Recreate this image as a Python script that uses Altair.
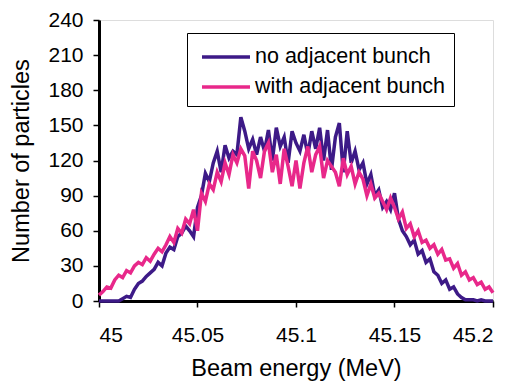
import altair as alt
import pandas as pd

energy = [round(45 + 0.002 * i, 3) for i in range(101)]

no_adjacent = [
    0, 0, 0, 0, 0, 0, 2, 4, 3, 10,
    15, 17, 21, 24, 27, 33, 30, 41, 46, 44,
    55, 58, 64, 60, 55, 80, 90, 109, 102, 118,
    128, 110, 133, 122, 128, 125, 157, 145, 130, 138,
    125, 140, 128, 146, 120, 148, 132, 140, 118, 145,
    135, 128, 142, 125, 145, 130, 148, 120, 146, 112,
    140, 152, 110, 145, 118, 128, 112, 118, 100, 108,
    90, 95, 80, 85, 78, 92, 70, 60, 55, 48,
    52, 40, 43, 33, 36, 25, 22, 15, 18, 10,
    12, 6, 3, 1, 1, 1, 0, 1, 0, 0,
    0,
]

with_adjacent = [
    5, 8, 12, 11, 18, 22, 20, 26, 24, 30,
    33, 31, 37, 34, 40, 45, 42, 48, 55, 50,
    62, 58, 70, 66, 78, 60, 92, 85, 100, 95,
    110, 102, 118, 108, 125, 118, 130, 124, 96, 128,
    120, 105, 128, 135, 110, 125, 100, 130, 115, 98,
    120, 96, 118, 132, 110, 125, 132, 105, 120, 115,
    110, 98, 122, 108, 115, 100, 110, 104, 90, 100,
    88, 92, 85, 78, 88, 80, 70, 76, 62, 66,
    55, 60, 50, 52, 45, 48, 40, 44, 35, 36,
    28, 32, 22, 25, 18, 20, 14, 16, 10, 12,
    7,
]

series_names = ["no adjacent bunch", "with adjacent bunch"]
series_colors = ["#3D1A87", "#E8288A"]

df = pd.concat([
    pd.DataFrame({"energy": energy, "count": no_adjacent, "series": series_names[0], "order": 0}),
    pd.DataFrame({"energy": energy, "count": with_adjacent, "series": series_names[1], "order": 1}),
])

font = "Liberation Sans"

axis_common = dict(
    grid=False, labelFontSize=21, titleFontSize=23.5, tickSize=6, tickWidth=1.5,
    domainWidth=3, domainColor="black", tickColor="black",
    labelColor="black", titleColor="black",
    labelFont=font, titleFont=font, titleFontWeight="normal",
)

chart = alt.Chart(df).mark_line(strokeWidth=3.5).encode(
    x=alt.X("energy:Q",
            scale=alt.Scale(domain=[45, 45.2], nice=False, zero=False),
            axis=alt.Axis(values=[45, 45.05, 45.1, 45.15, 45.2], format=".4~f",
                          title="Beam energy (MeV)", labelPadding=17,
                          titlePadding=11, **axis_common)),
    y=alt.Y("count:Q",
            scale=alt.Scale(domain=[0, 240], nice=False),
            axis=alt.Axis(values=list(range(0, 241, 30)),
                          title="Number of particles", labelPadding=10,
                          titlePadding=14, **axis_common)),
    color=alt.Color("series:N",
                    scale=alt.Scale(domain=series_names, range=series_colors),
                    legend=alt.Legend(title=None, orient="none", legendX=88, legendY=13,
                                      symbolType="M-1.714,0H1.714", symbolStrokeWidth=3.5,
                                      symbolSize=784, symbolOffset=15,
                                      labelFontSize=21.5, labelFont=font, labelLimit=0,
                                      labelColor="black", strokeColor="black",
                                      padding=8, rowPadding=3, labelOffset=13,
                                      fillColor="white")),
    order=alt.Order("order:Q"),
).properties(
    width=394, height=281,
    autosize=alt.AutoSizeParams(type="none"),
    padding={"left": 91, "top": 12, "right": 15, "bottom": 80},
).configure_view(
    stroke="black", strokeWidth=3
).configure(background="white")

chart.save("out.html", embed_options={"renderer": "svg", "actions": False})
